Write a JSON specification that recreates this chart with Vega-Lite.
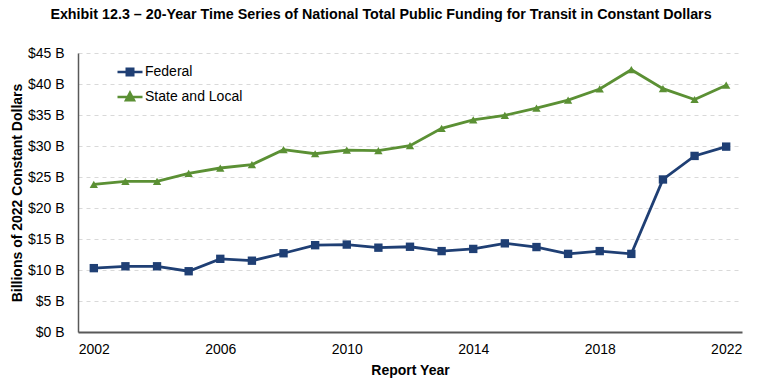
{
  "$schema": "https://vega.github.io/schema/vega-lite/v6.json",
  "autosize": "none",
  "padding": {"left": 78, "top": 53, "right": 39, "bottom": 59},
  "width": 664,
  "height": 279,
  "background": "white",
  "config": {
    "font": "Liberation Sans",
    "view": {"stroke": null}
  },
  "title": {
    "text": "Exhibit 12.3 – 20-Year Time Series of National Total Public Funding for Transit in Constant Dollars",
    "fontSize": 14.3,
    "fontWeight": "bold",
    "color": "#000000",
    "anchor": "middle",
    "dx": -29,
    "offset": 24
  },
  "data": {
    "values": [
      {"year": 2002, "series": "Federal", "value": 10.3},
      {"year": 2003, "series": "Federal", "value": 10.6},
      {"year": 2004, "series": "Federal", "value": 10.6},
      {"year": 2005, "series": "Federal", "value": 9.8},
      {"year": 2006, "series": "Federal", "value": 11.8},
      {"year": 2007, "series": "Federal", "value": 11.5},
      {"year": 2008, "series": "Federal", "value": 12.7},
      {"year": 2009, "series": "Federal", "value": 14.0},
      {"year": 2010, "series": "Federal", "value": 14.1},
      {"year": 2011, "series": "Federal", "value": 13.6},
      {"year": 2012, "series": "Federal", "value": 13.75},
      {"year": 2013, "series": "Federal", "value": 13.05},
      {"year": 2014, "series": "Federal", "value": 13.4},
      {"year": 2015, "series": "Federal", "value": 14.3},
      {"year": 2016, "series": "Federal", "value": 13.7},
      {"year": 2017, "series": "Federal", "value": 12.6},
      {"year": 2018, "series": "Federal", "value": 13.05},
      {"year": 2019, "series": "Federal", "value": 12.6},
      {"year": 2020, "series": "Federal", "value": 24.6},
      {"year": 2021, "series": "Federal", "value": 28.4},
      {"year": 2022, "series": "Federal", "value": 29.9},
      {"year": 2002, "series": "State and Local", "value": 23.8},
      {"year": 2003, "series": "State and Local", "value": 24.3},
      {"year": 2004, "series": "State and Local", "value": 24.3},
      {"year": 2005, "series": "State and Local", "value": 25.6},
      {"year": 2006, "series": "State and Local", "value": 26.45},
      {"year": 2007, "series": "State and Local", "value": 27.0},
      {"year": 2008, "series": "State and Local", "value": 29.4},
      {"year": 2009, "series": "State and Local", "value": 28.75},
      {"year": 2010, "series": "State and Local", "value": 29.35},
      {"year": 2011, "series": "State and Local", "value": 29.25},
      {"year": 2012, "series": "State and Local", "value": 30.05},
      {"year": 2013, "series": "State and Local", "value": 32.85},
      {"year": 2014, "series": "State and Local", "value": 34.2},
      {"year": 2015, "series": "State and Local", "value": 34.95},
      {"year": 2016, "series": "State and Local", "value": 36.1},
      {"year": 2017, "series": "State and Local", "value": 37.4},
      {"year": 2018, "series": "State and Local", "value": 39.2},
      {"year": 2019, "series": "State and Local", "value": 42.3},
      {"year": 2020, "series": "State and Local", "value": 39.25},
      {"year": 2021, "series": "State and Local", "value": 37.5},
      {"year": 2022, "series": "State and Local", "value": 39.8}
    ]
  },
  "encoding": {
    "x": {
      "field": "year",
      "type": "quantitative",
      "scale": {"domain": [2001.5, 2022.5], "nice": false, "zero": false},
      "axis": {
        "title": "Report Year",
        "values": [2002, 2006, 2010, 2014, 2018, 2022],
        "format": "d",
        "grid": false,
        "ticks": false,
        "domainColor": "#595959",
        "domainWidth": 2,
        "labelFontSize": 14,
        "labelColor": "#000000",
        "labelPadding": 10,
        "titleFontSize": 14,
        "titleFontWeight": "bold",
        "titleColor": "#000000",
        "titlePadding": 7
      }
    },
    "y": {
      "field": "value",
      "type": "quantitative",
      "scale": {"domain": [0, 45], "nice": false},
      "axis": {
        "title": "Billions of 2022 Constant Dollars",
        "values": [0, 5, 10, 15, 20, 25, 30, 35, 40, 45],
        "labelExpr": "'$' + datum.value + ' B'",
        "ticks": false,
        "grid": true,
        "gridColor": "#d9d9d9",
        "gridDash": [4, 4],
        "gridWidth": 1,
        "domainColor": "#595959",
        "domainWidth": 1.5,
        "labelFontSize": 14,
        "labelColor": "#000000",
        "labelPadding": 14,
        "titleFontSize": 14,
        "titleFontWeight": "bold",
        "titleColor": "#000000",
        "titlePadding": 3
      }
    },
    "color": {
      "field": "series",
      "type": "nominal",
      "scale": {"domain": ["Federal", "State and Local"], "range": ["#1f3f74", "#5b9034"]},
      "legend": {
        "title": null,
        "orient": "none",
        "legendX": 38,
        "legendY": 5,
        "labelFontSize": 14,
        "labelColor": "#000000",
        "labelOffset": 1,
        "symbolSize": 625,
        "rowPadding": 2,
        "symbolStrokeWidth": 2.5,
        "encode": {
          "symbols": {
            "update": {
              "shape": {"signal": "datum.value === 'Federal' ? 'M-1,0H1M-0.26,-0.26H0.26V0.26H-0.26Z' : 'M-1,0H1M0,-0.34L0.32,0.26H-0.32Z'"},
              "fill": {"signal": "datum.value === 'Federal' ? '#1f3f74' : '#5b9034'"},
              "stroke": {"signal": "datum.value === 'Federal' ? '#1f3f74' : '#5b9034'"},
              "fillOpacity": {"value": 1},
              "opacity": {"value": 1},
              "strokeWidth": {"value": 2.5}
            }
          }
        }
      }
    }
  },
  "layer": [
    {
      "mark": {"type": "line", "strokeWidth": 2.8}
    },
    {
      "transform": [{"filter": "datum.series === 'Federal'"}],
      "mark": {"type": "point", "filled": true, "opacity": 1, "size": 70, "shape": "square"}
    },
    {
      "transform": [{"filter": "datum.series === 'State and Local'"}],
      "mark": {"type": "point", "filled": true, "opacity": 1, "size": 70, "shape": "triangle-up"}
    }
  ]
}
